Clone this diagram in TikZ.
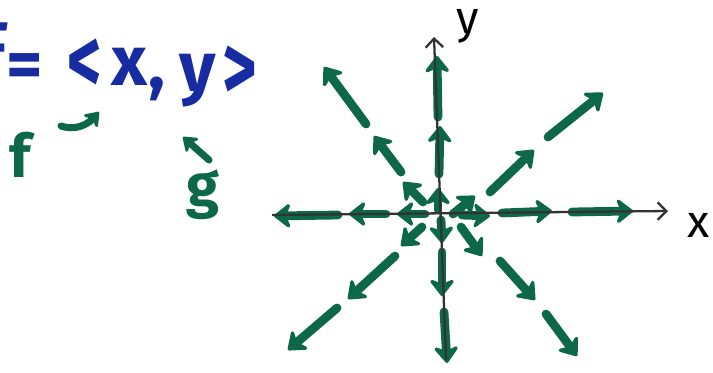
\documentclass[tikz,border=0pt]{standalone}
\usepackage{amsmath}
\usepackage{fontspec}
\setmainfont{Fira Sans}
\usetikzlibrary{arrows.meta}

\definecolor{pengreen}{RGB}{12,104,72}
\definecolor{penblue}{RGB}{22,44,160}
\definecolor{axisgray}{RGB}{50,50,50}

\begin{document}
\begin{tikzpicture}[
  x=0.02cm, y=-0.02cm,
  vec/.style={pengreen, line width=5pt, line cap=round, -{Stealth[length=11pt, width=17pt, round]}},
  axis/.style={axisgray, line width=1.3pt, -{Straight Barb[length=5pt, width=10pt]}},
  hint/.style={pengreen, line width=4pt, line cap=round, -{Stealth[length=9pt, width=13pt, round]}},
  bluetext/.style={penblue, font=\fontsize{40}{40}\selectfont\bfseries, inner sep=0pt},
  bracket/.style={penblue, font=\fontsize{54}{54}\selectfont\bfseries, inner sep=0pt},
  greentext/.style={pengreen, font=\fontsize{34}{34}\selectfont\bfseries, inner sep=0pt},
  axislabel/.style={black, font=\fontsize{26}{26}\selectfont, inner sep=0pt}
]
\useasboundingbox (0,0) rectangle (713,372);

% the formula, cut off at the left edge
\node[bluetext, anchor=north east] (fvec) at (9,22) {F};
\node[bluetext] (eq) at (25,71) {=};
\node[bracket] (lang) at (85,66) {\scalebox{0.7}[1]{<}};
\node[bluetext] (cx) at (129,67) {x};
\node[bluetext] (comma) at (157,89) {,};
\node[bluetext] (cy) at (198,81) {y};
\node[bracket] (rang) at (240,73) {\scalebox{0.7}[1]{>}};

% components
\node[greentext] (f) at (20,155) {f};
\node[greentext] (g) at (203,195) {g};
\coordinate (ftail) at (61,126);
\coordinate (fhead) at (99,112);
\coordinate (gtail) at (209,160);
\coordinate (ghead) at (183,137);
\draw[hint] (ftail) .. controls (76,131) and (88,124) .. (fhead);
\draw[hint] (gtail) -- (ghead);

% vector field
\foreach \xa/\ya/\xb/\yb in {
  438/210/438/188, 439/174/440/126, 438/117/437/56,
  462/215/490/216, 502/213/552/211, 572/212/633/211,
  425/214/397/214, 386/214/349/214, 338/215/274/216,
  441/220/442/243, 442/252/442/296, 444/312/447/363,
  453/214/475/196, 490/192/534/150, 548/137/603/93,
  423/202/403/182, 401/172/374/136, 366/124/324/67,
  422/227/401/246, 395/256/348/299, 337/308/288/350,
  461/227/482/256, 500/261/535/300, 546/314/577/356}
  {\draw[vec] (\xa,\ya) -- (\xb,\yb);}

% axes
\coordinate (xl) at (272,215);
\coordinate (xr) at (668,211);
\coordinate (yb) at (446,360);
\coordinate (yt) at (434,37);
\draw[axis] (xl) -- (xr);
\draw[axis] (yb) -- (yt);
\node[axislabel] (ylab) at (468,26) {y};
\node[axislabel] (xlab) at (699,225) {x};
\end{tikzpicture}
\end{document}
